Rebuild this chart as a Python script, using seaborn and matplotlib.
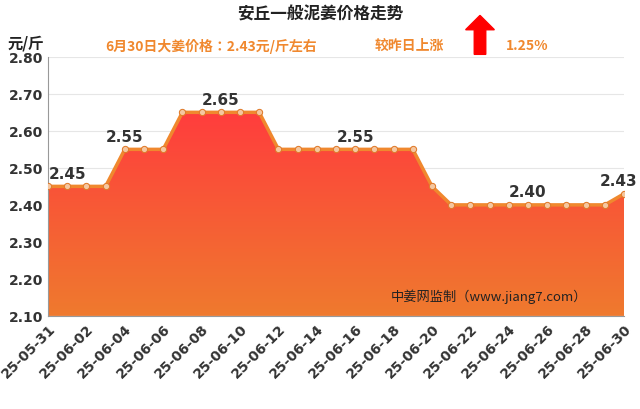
import numpy as np
import pandas as pd
import seaborn as sns
import matplotlib
matplotlib.use("Agg")
import matplotlib.pyplot as plt
from matplotlib.colors import LinearSegmentedColormap
from matplotlib import font_manager

dates = pd.date_range("2025-05-31", "2025-06-30").strftime("%y-%m-%d").tolist()
prices = [2.45]*4 + [2.55]*3 + [2.65]*5 + [2.55]*8 + [2.45] + [2.40]*9 + [2.43]
label_idx = [1, 4, 9, 16, 25, 30]
label_txt = ["2.45", "2.55", "2.65", "2.55", "2.40", "2.43"]
tick_labels = dates[::2]

names = {f.name for f in font_manager.fontManager.ttflist}
cjk = [n for n in ["Noto Sans CJK SC", "Noto Sans CJK JP", "Noto Sans CJK TC", "Noto Sans CJK KR"] if n in names]
if not cjk:
    cjk = [f.name for f in font_manager.fontManager.ttflist if "CJK" in f.name or "CJK" in f.fname][:1]
plt.rcParams["font.family"] = ["DejaVu Sans"] + cjk
cjkfont = cjk[0] if cjk else "DejaVu Sans"

fig = plt.figure(figsize=(6.4, 4.1), dpi=100)
ax = fig.add_axes([0.075, 0.227, 0.9, 0.632])
df = pd.DataFrame({"x": np.arange(len(prices)), "y": prices})
ax.set_ylim(2.10, 2.80)
ax.set_xlim(0, len(prices) - 1)
ax.set_axisbelow(True)
ax.yaxis.grid(True, color="#e6e6e6", lw=0.8)
ax.set_yticks(np.arange(2.10, 2.81, 0.10))
ax.set_yticklabels([f"{v:.2f}" for v in np.arange(2.10, 2.81, 0.10)], fontsize=10, fontweight="bold", color="#333")

cmap = LinearSegmentedColormap.from_list("g", ["#ef7a2e", "#ff3d3d"])
grad = np.linspace(0, 1, 256).reshape(-1, 1)
im = ax.imshow(grad, aspect="auto", cmap=cmap, origin="lower",
               extent=[0, len(prices) - 1, 2.10, max(prices)], zorder=1)
poly = ax.fill_between(df.x, df.y, 2.10, color="none")
im.set_clip_path(poly.get_paths()[0], transform=ax.transData)

sns.lineplot(data=df, x="x", y="y", ax=ax, color="#f0882e", lw=2.5, zorder=3,
             marker="o", markersize=4.5, markerfacecolor="#f5c7a0", markeredgecolor="#e07a2a")
for i, t in zip(label_idx, label_txt):
    ax.text(i - (0.3 if i == 30 else 0), prices[i] + 0.015, t, ha="center", va="bottom", fontsize=11,
            fontweight="bold", color="#333", zorder=4)

ax.set_xticks(range(0, len(prices), 2))
ax.set_xticklabels(tick_labels, rotation=45, ha="right", rotation_mode="anchor",
                   fontsize=10, fontweight="bold", color="#333")
ax.set_xlabel(""); ax.set_ylabel("")
for s in ["top", "right"]:
    ax.spines[s].set_visible(False)
for s in ["left", "bottom"]:
    ax.spines[s].set_color("#999")
ax.tick_params(length=0)

kw = dict(fontfamily=cjkfont, fontweight="bold", va="center")
fig.text(0.5, 0.965, "安丘一般泥姜价格走势", ha="center", fontsize=12, color="#222", **kw)
fig.text(0.165, 0.887, "6月30日大姜价格：2.43元/斤左右", fontsize=10, color="#f0882e", **kw)
fig.text(0.585, 0.887, "较昨日上涨", fontsize=10, color="#f0882e", **kw)
fig.text(0.79, 0.887, "1.25%", fontsize=10, color="#f0882e", **kw)
fig.patches.append(matplotlib.patches.FancyArrow(0.75, 0.865, 0, 0.06, width=0.018, head_width=0.045,
                   head_length=0.035, color="red", transform=fig.transFigure))
fig.text(0.012, 0.895, "元/斤", fontsize=11, color="#222", **kw)
fig.text(0.61, 0.275, "中姜网监制（www.jiang7.com）", fontsize=9.5, color="#222",
         fontfamily=cjkfont, va="center")
fig.savefig("out.png", dpi=100, facecolor="white")
